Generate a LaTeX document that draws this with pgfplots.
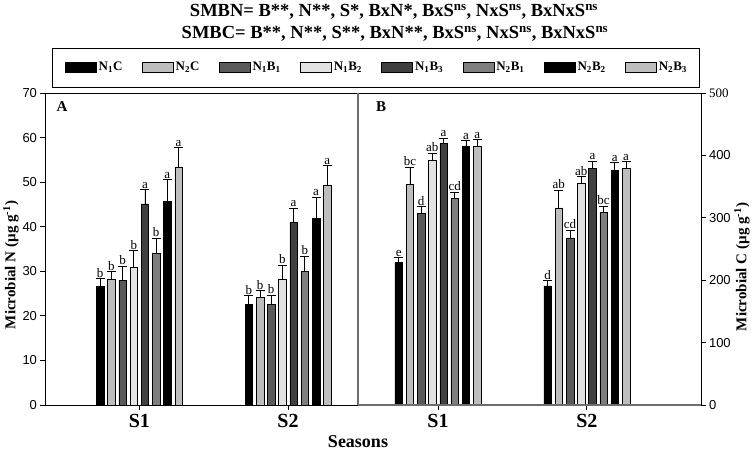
\documentclass[border=0pt]{standalone}
\usepackage{fontspec}
\setmainfont{Liberation Serif}
\setsansfont{Liberation Sans}
\usepackage{pgfplots}
\pgfplotsset{compat=1.18}
\usepackage{pgfplotstable}

\definecolor{cOne}{HTML}{000000}
\definecolor{cTwo}{HTML}{BDBDBD}
\definecolor{cThree}{HTML}{5A5A5A}
\definecolor{cFour}{HTML}{E2E2E2}
\definecolor{cFive}{HTML}{404040}
\definecolor{cSix}{HTML}{7E7E7E}
\definecolor{cSeven}{HTML}{000000}
\definecolor{cEight}{HTML}{BEBEBE}
\definecolor{sepgray}{HTML}{6E6E6E}

\pgfplotstableread{
s v1 v2 v3 v4 v5 v6 v7 v8 e1 e2 e3 e4 e5 e6 e7 e8 l1 l2 l3 l4 l5 l6 l7 l8
1 26.6 28.3 28.0 30.9 45.1 34.0 45.7 53.4 1.8 1.6 3.2 3.7 3.2 3.4 4.9 4.3 b b b b a b a a
2 22.6 24.2 22.6 28.3 41.0 30.0 41.8 49.4 1.9 1.5 2.1 3.1 3.2 3.4 4.8 4.3 b b b b a b a a
}\dataN

\pgfplotstableread{
s v1 v2 v3 v4 v5 v6 v7 v8 e1 e2 e3 e4 e5 e6 e7 e8 l1 l2 l3 l4 l5 l6 l7 l8
1 228 353 307 393 419 331 414 415 8 28 11 11 9 10 10 10 e bc d ab a cd a a
2 191 316 268 355 379 309 376 379 8 28 12 11 12 10 12 11 d ab cd ab a bc a a
}\dataC

\newcommand{\ser}[4]{%
  \addplot[fill=#1, draw=black, line width=0.5pt,
    point meta=explicit symbolic, nodes near coords,
    visualization depends on={#4*\thisrow{e#3} \as \eshift},
    every node near coord/.append style={yshift=\eshift},
    error bars/.cd, y dir=plus, y explicit,
    error bar style={black, line width=0.8pt},
    error mark options={black, rotate=90, mark size=4.5pt, line width=0.8pt}]
  table[x=s, y=v#3, y error=e#3, meta=l#3] {#2};}

\pgfplotsset{
  panel/.style={
    scale only axis, anchor=south west, height=312pt,
    ybar=3.7pt, bar width=7.5pt, ymin=0, clip=false,
    xtick={1,2}, xticklabels={S1,S2},
    tick align=outside, major tick length=4.5pt,
    xtick pos=bottom,
    axis line style={line width=0.8pt},
    tick style={black, line width=0.8pt},
    /pgf/number format/assume math mode=true,
    yticklabel style={font=\sffamily\fontsize{13}{13}\selectfont},
    xticklabel style={font=\rmfamily\bfseries\fontsize{20}{20}\selectfont, yshift=-1pt},
    nodes near coords style={font=\rmfamily\fontsize{13}{13}\selectfont, inner sep=1pt, anchor=south, black},
    legend image code/.code={\draw[##1,/tikz/.cd,line width=0.6pt] (0pt,-5pt) rectangle (31pt,5pt);},
  }
}

\begin{document}
\begin{tikzpicture}
\path[use as bounding box] (0pt,0pt) rectangle (752pt,455pt);

% titles
\node[font=\rmfamily\bfseries\fontsize{18.5}{18.5}\selectfont] at (394pt,443pt)
  {SMBN= B**, N**, S*, BxN*, BxS\textsuperscript{ns}, NxS\textsuperscript{ns}, BxNxS\textsuperscript{ns}};
\node[font=\rmfamily\bfseries\fontsize{18.5}{18.5}\selectfont] at (395pt,421pt)
  {SMBC= B**, N**, S**, BxN**, BxS\textsuperscript{ns}, NxS\textsuperscript{ns}, BxNxS\textsuperscript{ns}};

% legend frame
\draw[line width=0.8pt] (52pt,368pt) rectangle (699pt,407pt);

\begin{axis}[panel, at={(45pt,50pt)}, width=313pt,
  xmin=0.365, xmax=2.471, ymax=70, ytick={0,10,...,70}, ytick pos=left,
  legend columns=8,
  legend style={draw=none, fill=none, at={(0.054,1.083)}, anchor=west,
    font=\rmfamily\bfseries\fontsize{13}{13}\selectfont,
    /tikz/every even column/.append style={column sep=17.5pt},
    /tikz/every odd column/.append style={column sep=0pt}},
]
\ser{cOne}{\dataN}{1}{4.457}
\ser{cTwo}{\dataN}{2}{4.457}
\ser{cThree}{\dataN}{3}{4.457}
\ser{cFour}{\dataN}{4}{4.457}
\ser{cFive}{\dataN}{5}{4.457}
\ser{cSix}{\dataN}{6}{4.457}
\ser{cSeven}{\dataN}{7}{4.457}
\ser{cEight}{\dataN}{8}{4.457}
\legend{N\textsubscript{1}C, N\textsubscript{2}C, N\textsubscript{1}B\textsubscript{1},
  N\textsubscript{1}B\textsubscript{2}, N\textsubscript{1}B\textsubscript{3},
  N\textsubscript{2}B\textsubscript{1}, N\textsubscript{2}B\textsubscript{2},
  N\textsubscript{2}B\textsubscript{3}}
\end{axis}

\begin{axis}[panel, at={(358pt,50pt)}, width=343pt,
  xmin=0.463, xmax=2.767, ymax=500, ytick={0,100,...,500},
  ytick pos=right, yticklabel pos=right,
  yticklabels={0,100,200,300,400,{\rmfamily 500}},
]
\ser{cOne}{\dataC}{1}{0.624}
\ser{cTwo}{\dataC}{2}{0.624}
\ser{cThree}{\dataC}{3}{0.624}
\ser{cFour}{\dataC}{4}{0.624}
\ser{cFive}{\dataC}{5}{0.624}
\ser{cSix}{\dataC}{6}{0.624}
\ser{cSeven}{\dataC}{7}{0.624}
\ser{cEight}{\dataC}{8}{0.624}
\end{axis}

% panel separator and gray borders of panel B
\draw[sepgray, line width=1.6pt] (358pt,50pt) -- (358pt,362pt);
\draw[sepgray, line width=1.4pt] (358pt,50pt) -- (701pt,50pt);

% panel letters
\node[font=\rmfamily\bfseries\fontsize{15}{15}\selectfont] at (62pt,348pt) {A};
\node[font=\rmfamily\bfseries\fontsize{15}{15}\selectfont] at (381pt,348pt) {B};

% axis titles
\node[rotate=90, font=\rmfamily\bfseries\fontsize{15}{15}\selectfont] at (11pt,190pt)
  {Microbial N (µg g\textsuperscript{-1})};
\node[rotate=90, font=\rmfamily\bfseries\fontsize{15}{15}\selectfont] at (742pt,188pt)
  {Microbial C (µg g\textsuperscript{-1})};
\node[font=\rmfamily\bfseries\fontsize{18}{18}\selectfont] at (358pt,13pt) {Seasons};
\end{tikzpicture}
\end{document}
